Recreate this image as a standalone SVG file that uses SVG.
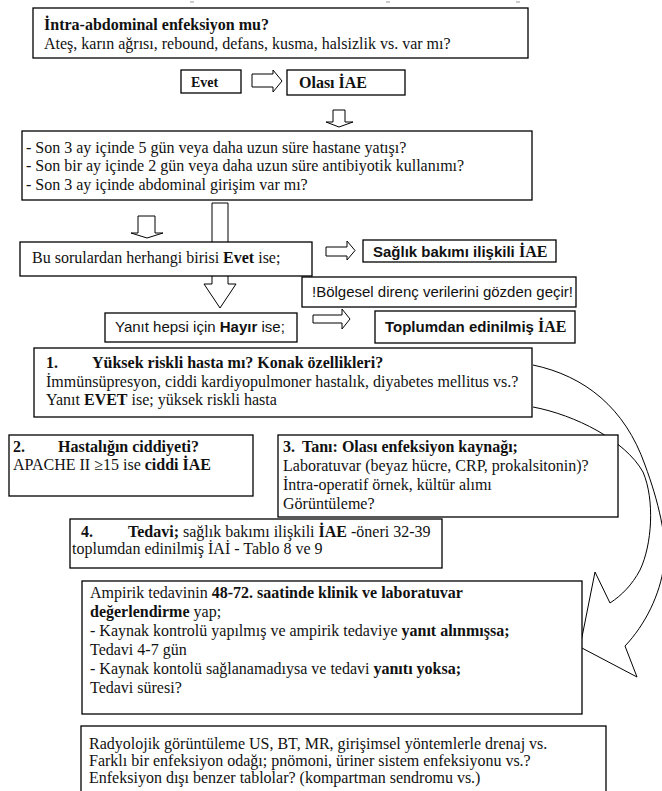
<svg xmlns="http://www.w3.org/2000/svg" width="662" height="791" viewBox="0 0 662 791">
<style>
.b{fill:#fff;stroke:#000;stroke-width:1.3}
.ar{fill:#fff;stroke:#000;stroke-width:1}
.cv{fill:none;stroke:#000;stroke-width:1}
.t{font-family:'Liberation Serif','Times New Roman',serif;font-size:16px;fill:#111}
.s{font-family:'Liberation Sans',Arial,sans-serif;font-size:15px;fill:#111}
.bd{font-weight:bold}
.sf{font-family:'Liberation Serif','Times New Roman',serif;font-size:16px}
</style>
<rect width="662" height="791" fill="#fff"/>
<g id="marks" stroke="#999" stroke-width="1">
<path d="M190,2h4M386,2h4M516,2h4"/>
</g>
<g id="connectors">
<polygon class="ar" points="252,74 273,74 273,70 282,81 273,92 273,87 252,87"/>
<polygon class="ar" points="333,110 345,110 345,122 353,122 339,127 326,122 333,122"/>
<polygon class="ar" points="212,203 228,203 228,284 236,284 220,308 204,284 212,284"/>
<polygon class="ar" points="138,216 155,216 155,233 163,233 147,238 131,233 138,233"/>
<polygon class="ar" points="326,247 347,247 347,241 355,250.5 347,260 347,256 326,256"/>
<polygon class="ar" points="313,315 342,315 342,309 350,319 342,329 342,323 313,323"/>
<path class="cv" d="M533,365 C585,376 625,408 645,465 C658,500 668,540 664,565 C660,595 645,625 625,646 L637,677 L580,647 L595,572 L610,603 C622,595 632,585 640,570 C652,545 655,500 643,472 C625,440 575,415 533,407"/>
</g>
<g id="n-intra">
<rect class="b" x="33" y="8" width="495" height="50"/>
<text class="t bd" x="44" y="30">İntra-abdominal enfeksiyon mu?</text>
<text class="t" x="44" y="49">Ateş, karın ağrısı, rebound, defans, kusma, halsizlik vs. var mı?</text>
</g>
<g id="n-evet">
<rect class="b" x="181" y="70" width="60" height="23"/>
<text class="t bd" x="191" y="87" style="font-size:14px">Evet</text>
</g>
<g id="n-olasi">
<rect class="b" x="287" y="70" width="118" height="25"/>
<text class="t bd" x="299" y="88">Olası İAE</text>
</g>
<g id="n-sorular">
<rect class="b" x="22" y="131" width="510" height="69"/>
<text class="t" x="26" y="153">- Son 3 ay içinde 5 gün veya daha uzun süre hastane yatışı?</text>
<text class="t" x="26" y="171">- Son bir ay içinde 2 gün veya daha uzun süre antibiyotik kullanımı?</text>
<text class="t" x="26" y="190">- Son 3 ay içinde abdominal girişim var mı?</text>
</g>
<g id="n-evetise">
<rect class="b" x="20" y="242" width="292" height="34"/>
<text class="t" x="32" y="263">Bu sorulardan herhangi birisi <tspan class="bd">Evet</tspan> ise;</text>
</g>
<g id="n-saglik">
<rect class="b" x="363" y="240" width="193" height="22"/>
<text class="s bd" x="373" y="257">Sağlık bakımı ilişkili <tspan class="sf">İAE</tspan></text>
</g>
<g id="n-bolgesel">
<rect class="b" x="302" y="277" width="274" height="30"/>
<text class="s" x="312" y="297">!Bölgesel direnç verilerini gözden geçir!</text>
</g>
<g id="n-hayir">
<rect class="b" x="105" y="313" width="192" height="29"/>
<text class="s" x="115" y="332">Yanıt hepsi için <tspan class="bd">Hayır</tspan> ise;</text>
</g>
<g id="n-toplum">
<rect class="b" x="375" y="311" width="200" height="32"/>
<text class="s bd" x="385" y="332">Toplumdan edinilmiş <tspan class="sf">İAE</tspan></text>
</g>
<g id="n-1">
<rect class="b" x="34" y="348" width="498" height="69"/>
<text class="t bd" x="46" y="368">1.</text>
<text class="t bd" x="92" y="368">Yüksek riskli hasta mı? Konak özellikleri?</text>
<text class="t" x="46" y="387">İmmünsüpresyon, ciddi kardiyopulmoner hastalık, diyabetes mellitus vs.?</text>
<text class="t" x="46" y="405">Yanıt <tspan class="bd">EVET</tspan> ise; yüksek riskli hasta</text>
</g>
<g id="n-2">
<rect class="b" x="9" y="435" width="244" height="61"/>
<text class="t bd" x="13" y="452">2.</text>
<text class="t bd" x="58" y="452">Hastalığın ciddiyeti?</text>
<text class="t" x="13" y="470">APACHE II ≥15 ise <tspan class="bd">ciddi İAE</tspan></text>
</g>
<g id="n-3">
<rect class="b" x="278" y="435" width="340" height="82"/>
<text class="t bd" x="283" y="452">3.</text>
<text class="t bd" x="302" y="452">Tanı: Olası enfeksiyon kaynağı;</text>
<text class="t" x="283" y="471">Laboratuvar (beyaz hücre, CRP, prokalsitonin)?</text>
<text class="t" x="283" y="490">İntra-operatif örnek, kültür alımı</text>
<text class="t" x="283" y="509">Görüntüleme?</text>
</g>
<g id="n-4">
<rect class="b" x="70" y="519" width="372" height="49"/>
<text class="t bd" x="81" y="537">4.</text>
<text class="t" x="128" y="537"><tspan class="bd">Tedavi;</tspan> sağlık bakımı ilişkili <tspan class="bd">İAE</tspan> -öneri 32-39</text>
<text class="t" x="72" y="554">toplumdan edinilmiş İAİ - Tablo 8 ve 9</text>
</g>
<g id="n-ampirik">
<rect class="b" x="82" y="581" width="500" height="133"/>
<text class="t" x="90" y="598">Ampirik tedavinin <tspan class="bd">48-72. saatinde klinik ve laboratuvar</tspan></text>
<text class="t" x="90" y="617"><tspan class="bd">değerlendirme</tspan> yap;</text>
<text class="t" x="90" y="636">- Kaynak kontrolü yapılmış ve ampirik tedaviye <tspan class="bd">yanıt alınmışsa;</tspan></text>
<text class="t" x="90" y="655">Tedavi 4-7 gün</text>
<text class="t" x="90" y="674">- Kaynak kontolü sağlanamadıysa ve tedavi <tspan class="bd">yanıtı yoksa;</tspan></text>
<text class="t" x="90" y="693">Tedavi süresi?</text>
</g>
<g id="n-radyolojik">
<rect class="b" x="81" y="726" width="525" height="80"/>
<text class="t" x="89" y="749">Radyolojik görüntüleme US, BT, MR, girişimsel yöntemlerle drenaj vs.</text>
<text class="t" x="89" y="766">Farklı bir enfeksiyon odağı; pnömoni, üriner sistem enfeksiyonu vs.?</text>
<text class="t" x="89" y="783">Enfeksiyon dışı benzer tablolar? (kompartman sendromu vs.)</text>
</g>
</svg>
